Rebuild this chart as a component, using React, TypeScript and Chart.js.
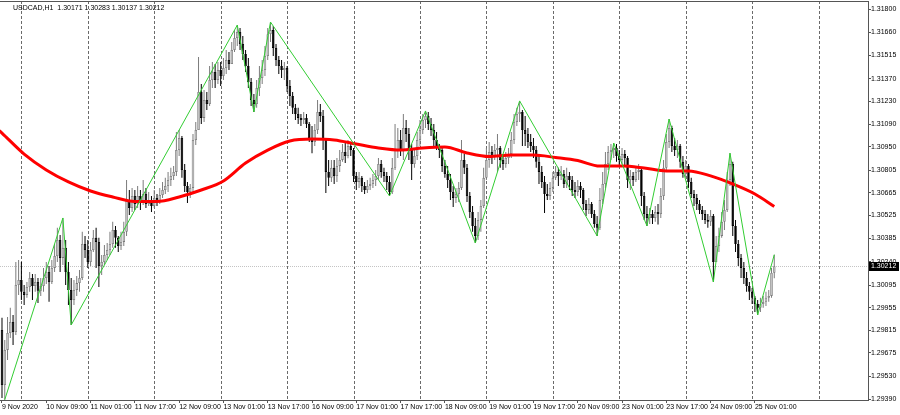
import React, { useEffect, useRef } from "react";
import { Chart, registerables } from "chart.js";

Chart.register(...registerables);

// ---------- data (USDCAD H1, 9 Nov 17:00 .. 25 Nov 08:00) ----------
const symbol = "USDCAD,H1";
const firstOpen = 1.29817;

const closes = [
  1.29477,1.29694,1.29798,1.29867,1.29805,1.30095,1.30126,1.30053,1.30034,1.30083,
  1.30139,1.30089,1.30114,1.30059,1.30089,1.30139,1.30176,1.30114,1.30201,1.30275,
  1.30374,1.30263,1.30325,1.30176,1.30065,1.30003,1.30065,1.30107,1.30139,1.30349,
  1.30312,1.30238,1.30312,1.30387,1.30362,1.30213,1.30238,1.30281,1.30312,1.30349,
  1.30436,1.30387,1.30337,1.30362,1.30424,1.30621,1.30572,1.30646,1.30596,1.30646,
  1.30609,1.30658,1.30596,1.30621,1.30584,1.30634,1.30609,1.30652,1.30683,1.30708,
  1.30745,1.30770,1.30795,1.30930,1.31005,1.30807,1.30708,1.30671,1.30696,1.30992,
  1.31054,1.31289,1.31129,1.31240,1.31215,1.31363,1.31413,1.31363,1.31425,1.31388,
  1.31438,1.31487,1.31462,1.31549,1.31623,1.31660,1.31586,1.31524,1.31450,1.31351,
  1.31240,1.31215,1.31314,1.31376,1.31425,1.31512,1.31647,1.31672,1.31562,1.31487,
  1.31450,1.31425,1.31438,1.31326,1.31264,1.31191,1.31153,1.31129,1.31116,1.31129,
  1.31091,1.31005,1.30980,1.31054,1.31166,1.31141,1.30992,1.30795,1.30758,1.30820,
  1.30770,1.30832,1.30869,1.30918,1.30893,1.30955,1.30930,1.30770,1.30733,1.30758,
  1.30708,1.30683,1.30708,1.30720,1.30745,1.30770,1.30844,1.30795,1.30770,1.30733,
  1.30671,1.30820,1.30930,1.30992,1.30930,1.31067,1.31029,1.30930,1.30844,1.30893,
  1.30992,1.31054,1.31116,1.31141,1.31091,1.31054,1.30992,1.30955,1.30930,1.30832,
  1.30782,1.30745,1.30671,1.30634,1.30658,1.30696,1.30869,1.30820,1.30646,1.30547,
  1.30461,1.30399,1.30498,1.30584,1.30758,1.30869,1.30918,1.30893,1.30930,1.30943,
  1.30869,1.30844,1.30881,1.30905,1.30992,1.31104,1.31153,1.31166,1.31054,1.31029,
  1.30980,1.30955,1.30930,1.30857,1.30795,1.30733,1.30658,1.30646,1.30696,1.30758,
  1.30795,1.30770,1.30782,1.30720,1.30770,1.30745,1.30683,1.30671,1.30708,1.30683,
  1.30596,1.30559,1.30596,1.30534,1.30473,1.30449,1.30621,1.30720,1.30844,1.30918,
  1.30930,1.30943,1.30893,1.30869,1.30905,1.30881,1.30745,1.30770,1.30745,1.30795,
  1.30807,1.30646,1.30534,1.30510,1.30534,1.30510,1.30547,1.30534,1.30646,1.30820,
  1.30980,1.31067,1.30955,1.30930,1.30955,1.30857,1.30782,1.30832,1.30733,1.30658,
  1.30634,1.30596,1.30559,1.30534,1.30498,1.30486,1.30522,1.30238,1.30337,1.30399,
  1.30486,1.30559,1.30745,1.30844,1.30461,1.30349,1.30263,1.30201,1.30139,1.30089,
  1.30053,1.30016,1.29978,1.29954,1.29978,1.29991,1.30016,1.30028,1.30171,1.30212,
];

const highs = [
  1.29892,1.29755,1.29898,1.29954,1.29910,1.30238,1.30250,1.30238,1.30095,1.30114,
  1.30176,1.30163,1.30163,1.30139,1.30139,1.30201,1.30238,1.30213,1.30250,1.30349,
  1.30449,1.30405,1.30510,1.30374,1.30238,1.30139,1.30126,1.30151,1.30188,1.30424,
  1.30399,1.30374,1.30362,1.30436,1.30449,1.30387,1.30281,1.30343,1.30355,1.30424,
  1.30486,1.30461,1.30399,1.30424,1.30486,1.30745,1.30683,1.30696,1.30683,1.30708,
  1.30683,1.30745,1.30696,1.30671,1.30646,1.30683,1.30658,1.30696,1.30733,1.30758,
  1.30795,1.30820,1.30832,1.31042,1.31054,1.31017,1.30844,1.30733,1.30720,1.31029,
  1.31104,1.31506,1.31338,1.31301,1.31289,1.31450,1.31475,1.31462,1.31475,1.31475,
  1.31500,1.31549,1.31537,1.31599,1.31672,1.31703,1.31685,1.31635,1.31549,1.31500,
  1.31376,1.31276,1.31363,1.31450,1.31487,1.31574,1.31685,1.31722,1.31697,1.31586,
  1.31512,1.31487,1.31475,1.31450,1.31363,1.31289,1.31215,1.31191,1.31153,1.31166,
  1.31153,1.31104,1.31079,1.31091,1.31240,1.31215,1.31178,1.31005,1.30869,1.30869,
  1.30869,1.30881,1.30930,1.30967,1.30973,1.30992,1.30980,1.30943,1.30795,1.30795,
  1.30770,1.30733,1.30745,1.30758,1.30782,1.30807,1.30881,1.30869,1.30820,1.30795,
  1.30770,1.30881,1.31091,1.31067,1.31054,1.31153,1.31116,1.31067,1.30967,1.30943,
  1.31042,1.31116,1.31153,1.31172,1.31166,1.31129,1.31091,1.31042,1.30967,1.30955,
  1.30869,1.30832,1.30782,1.30708,1.30696,1.30733,1.30992,1.30905,1.30844,1.30671,
  1.30584,1.30510,1.30547,1.30621,1.30820,1.30943,1.30980,1.30955,1.30967,1.31029,
  1.30955,1.30905,1.30918,1.30943,1.31042,1.31153,1.31191,1.31234,1.31178,1.31141,
  1.31067,1.31029,1.31005,1.30955,1.30893,1.30832,1.30770,1.30720,1.30733,1.30795,
  1.30832,1.30820,1.30832,1.30807,1.30820,1.30795,1.30770,1.30733,1.30745,1.30733,
  1.30696,1.30621,1.30634,1.30609,1.30559,1.30522,1.30696,1.30795,1.30918,1.30955,
  1.30967,1.30973,1.30967,1.30930,1.30943,1.30930,1.30893,1.30807,1.30795,1.30832,
  1.30844,1.30820,1.30671,1.30584,1.30572,1.30559,1.30584,1.30596,1.30696,1.30869,
  1.31029,1.31122,1.31080,1.31005,1.30992,1.30967,1.30893,1.30869,1.30844,1.30758,
  1.30683,1.30658,1.30621,1.30584,1.30559,1.30534,1.30559,1.30534,1.30399,1.30449,
  1.30547,1.30621,1.30795,1.30911,1.30857,1.30498,1.30374,1.30287,1.30238,1.30176,
  1.30114,1.30077,1.30028,1.30003,1.30016,1.30028,1.30053,1.30065,1.30201,1.30283,
];

const lows = [
  1.29397,1.29386,1.29632,1.29768,1.29724,1.29786,1.30034,1.30003,1.29972,1.30016,
  1.30053,1.30003,1.30053,1.29984,1.30028,1.30053,1.30101,1.29991,1.30101,1.30176,
  1.30238,1.30176,1.30219,1.30095,1.29972,1.29848,1.29972,1.30028,1.30053,1.30126,
  1.30263,1.30201,1.30213,1.30300,1.30201,1.30083,1.30157,1.30219,1.30250,1.30281,
  1.30325,1.30325,1.30300,1.30312,1.30337,1.30399,1.30528,1.30547,1.30559,1.30572,
  1.30559,1.30590,1.30572,1.30584,1.30547,1.30572,1.30584,1.30596,1.30634,1.30658,
  1.30671,1.30708,1.30745,1.30770,1.30893,1.30758,1.30671,1.30602,1.30634,1.30671,
  1.30961,1.31054,1.31091,1.31104,1.31178,1.31203,1.31314,1.31314,1.31338,1.31326,
  1.31363,1.31400,1.31425,1.31462,1.31537,1.31574,1.31549,1.31487,1.31413,1.31314,
  1.31203,1.31166,1.31191,1.31264,1.31338,1.31388,1.31487,1.31599,1.31512,1.31450,
  1.31400,1.31376,1.31363,1.31289,1.31203,1.31153,1.31116,1.31091,1.31079,1.31091,
  1.31067,1.30980,1.30911,1.30955,1.31029,1.31104,1.30930,1.30664,1.30708,1.30733,
  1.30720,1.30733,1.30795,1.30857,1.30850,1.30880,1.30893,1.30733,1.30683,1.30696,
  1.30671,1.30658,1.30664,1.30683,1.30696,1.30708,1.30745,1.30758,1.30733,1.30683,
  1.30646,1.30658,1.30807,1.30881,1.30893,1.30869,1.30980,1.30869,1.30745,1.30820,
  1.30869,1.30955,1.31029,1.31067,1.31054,1.31017,1.30943,1.30930,1.30881,1.30795,
  1.30758,1.30696,1.30621,1.30578,1.30602,1.30609,1.30683,1.30782,1.30609,1.30510,
  1.30424,1.30355,1.30374,1.30424,1.30572,1.30745,1.30820,1.30844,1.30869,1.30795,
  1.30820,1.30807,1.30820,1.30844,1.30881,1.30967,1.31079,1.31104,1.30955,1.30955,
  1.30943,1.30918,1.30881,1.30820,1.30720,1.30696,1.30540,1.30621,1.30621,1.30671,
  1.30745,1.30708,1.30745,1.30696,1.30696,1.30683,1.30646,1.30634,1.30646,1.30634,
  1.30559,1.30522,1.30534,1.30510,1.30449,1.30399,1.30436,1.30596,1.30696,1.30807,
  1.30869,1.30881,1.30857,1.30832,1.30844,1.30832,1.30696,1.30683,1.30708,1.30733,
  1.30745,1.30584,1.30498,1.30461,1.30473,1.30473,1.30486,1.30470,1.30510,1.30621,
  1.30795,1.30943,1.30918,1.30893,1.30881,1.30820,1.30758,1.30758,1.30696,1.30634,
  1.30584,1.30559,1.30534,1.30498,1.30473,1.30449,1.30461,1.30114,1.30238,1.30300,
  1.30387,1.30436,1.30547,1.30708,1.30399,1.30300,1.30213,1.30139,1.30101,1.30053,
  1.30003,1.29978,1.29929,1.29910,1.29929,1.29954,1.29966,1.29991,1.30016,1.30137,
];

// ZigZag pivots (bar index, price)
const zigzagBars = [1, 22, 25, 85, 91, 97, 140, 153, 171, 187, 215, 221, 233, 241, 257, 263, 273, 279];
const zigzagPrices = [
  1.29386, 1.30510, 1.29848, 1.31703, 1.31166, 1.31722, 1.30646, 1.31172, 1.30355,
  1.31234, 1.30399, 1.30973, 1.30461, 1.31122, 1.30114, 1.30911, 1.29910, 1.30283,
];

// Moving average (red), sampled at bar indices
const maBars = [-1, 0, 8, 16, 24, 32, 40, 48, 56, 64, 72, 80, 88, 96, 104, 112, 120, 128, 136, 144, 152, 160, 168, 176, 184, 192, 200, 208, 216, 224, 232, 240, 248, 256, 264, 272, 279];
const maValues = [
  1.31051, 1.31035, 1.30905, 1.30807, 1.30733, 1.30677, 1.30640, 1.30612, 1.30612, 1.30640,
  1.30683, 1.30739, 1.30850, 1.30930, 1.30986, 1.30998, 1.30992, 1.30967, 1.30943, 1.30930,
  1.30943, 1.30949, 1.30912, 1.30890, 1.30899, 1.30899, 1.30884, 1.30865, 1.30831, 1.30831,
  1.30819, 1.30801, 1.30801, 1.30770, 1.30720, 1.30658, 1.30581,
];

// Time axis labels (every 16 bars) and day separators
const xLabelBars = [0, 16, 32, 48, 64, 80, 96, 112, 128, 144, 160, 176, 192, 208, 224, 240, 256, 272];
const xLabels = [
  "9 Nov 2020", "10 Nov 09:00", "11 Nov 01:00", "11 Nov 17:00", "12 Nov 09:00", "13 Nov 01:00",
  "13 Nov 17:00", "16 Nov 09:00", "17 Nov 01:00", "17 Nov 17:00", "18 Nov 09:00", "19 Nov 01:00",
  "19 Nov 17:00", "20 Nov 09:00", "23 Nov 01:00", "23 Nov 17:00", "24 Nov 09:00", "25 Nov 01:00",
];
const daySeparatorBars = [7, 31, 55, 79, 103, 127, 151, 175, 199, 223, 247, 271, 295];

// Price axis
const yTicks = [
  1.318, 1.3166, 1.31515, 1.3137, 1.3123, 1.3109, 1.3095, 1.30805, 1.30665,
  1.30525, 1.30385, 1.3024, 1.30095, 1.29955, 1.29815, 1.29675, 1.2953, 1.2939,
];
const yMin = 1.29384;
const yMax = 1.31852;
const xMin = -0.72;
const xMax = 312.86;

const FONT = '"Liberation Sans", Arial, sans-serif';
const BULL_BODY = "#c4c4c4";
const BULL_EDGE = "#7c7c7c";
const BULL_WICK = "#7c7c7c";
const BEAR = "#000000";
const AXIS = "#555555";

export default function App() {
  const ref = useRef<HTMLCanvasElement | null>(null);

  useEffect(() => {
    if (!ref.current) return;
    const n = closes.length;
    const idx = closes.map((_, i) => i);
    // forex hourly bars open at the previous close
    const opens = closes.map((_, i) => (i === 0 ? firstOpen : closes[i - 1]));
    const isUp = closes.map((c, i) => c >= opens[i]);
    const last = n - 1;
    const fmt = (v: number) => v.toFixed(5);

    const decorations = {
      id: "decorations",
      beforeDatasetsDraw(chart: any) {
        const { ctx, chartArea: a } = chart;
        const xs = chart.scales.x;
        const ys = chart.scales.y;
        ctx.save();
        ctx.lineWidth = 1;
        ctx.strokeStyle = "#6a6a6a";
        ctx.setLineDash([3, 2]);
        for (const b of daySeparatorBars) {
          const px = Math.round(xs.getPixelForValue(b)) + 0.5;
          if (px < a.left || px > a.right) continue;
          ctx.beginPath();
          ctx.moveTo(px, a.top);
          ctx.lineTo(px, a.bottom);
          ctx.stroke();
        }
        const py = Math.round(ys.getPixelForValue(closes[last])) + 0.5;
        ctx.strokeStyle = "#c4c4c4";
        ctx.setLineDash([1, 1]);
        ctx.beginPath();
        ctx.moveTo(a.left, py);
        ctx.lineTo(a.right, py);
        ctx.stroke();
        ctx.restore();
      },
      afterDraw(chart: any) {
        const { ctx, chartArea: a } = chart;
        const ys = chart.scales.y;
        ctx.save();
        // top border of the plot frame
        ctx.strokeStyle = AXIS;
        ctx.lineWidth = 1;
        ctx.beginPath();
        ctx.moveTo(a.left, Math.floor(a.top) + 0.5);
        ctx.lineTo(a.right, Math.floor(a.top) + 0.5);
        ctx.stroke();
        // header
        ctx.fillStyle = "#000";
        ctx.font = `7px ${FONT}`;
        ctx.textBaseline = "alphabetic";
        ctx.textAlign = "left";
        ctx.fillText(
          `${symbol}  ${fmt(opens[last])} ${fmt(highs[last])} ${fmt(lows[last])} ${fmt(closes[last])}`,
          13,
          9.5
        );
        // current price tag
        const py = Math.round(ys.getPixelForValue(closes[last]));
        ctx.fillStyle = "#000";
        ctx.fillRect(a.right + 1, py - 4, 30, 9);
        ctx.fillStyle = "#fff";
        ctx.textBaseline = "middle";
        ctx.fillText(fmt(closes[last]), a.right + 3, py + 0.5);
        ctx.restore();
      },
    };

    const chart = new Chart(ref.current, {
      type: "bar",
      data: {
        datasets: [
          {
            type: "bar",
            label: "wicks",
            data: idx.map((i) => ({ x: i, y: [lows[i], highs[i]] })) as any,
            backgroundColor: isUp.map((u) => (u ? BULL_WICK : BEAR)),
            barThickness: 1,
            grouped: false,
            inflateAmount: 0,
            borderWidth: 0,
            order: 4,
          } as any,
          {
            type: "bar",
            label: "bodies",
            data: idx.map((i) => ({ x: i, y: [opens[i], closes[i]] })) as any,
            backgroundColor: isUp.map((u) => (u ? BULL_BODY : BEAR)),
            borderColor: isUp.map((u) => (u ? BULL_EDGE : BEAR)),
            borderWidth: 0.8,
            borderSkipped: false,
            barThickness: 2.6,
            minBarLength: 1,
            grouped: false,
            inflateAmount: 0,
            order: 3,
          } as any,
          {
            type: "line",
            label: "MA",
            data: maBars.map((b, k) => ({ x: b, y: maValues[k] })),
            borderColor: "#ff0000",
            borderWidth: 3,
            pointRadius: 0,
            cubicInterpolationMode: "monotone",
            fill: false,
            order: 2,
          } as any,
          {
            type: "line",
            label: "ZigZag",
            data: zigzagBars.map((b, k) => ({ x: b, y: zigzagPrices[k] })),
            borderColor: "#32cd32",
            borderWidth: 1,
            pointRadius: 0,
            tension: 0,
            fill: false,
            order: 1,
          } as any,
        ],
      },
      options: {
        responsive: false,
        animation: false,
        events: [],
        devicePixelRatio: 1,
        layout: { padding: { top: 1, left: 0, right: 0, bottom: 0 } },
        plugins: { legend: { display: false }, tooltip: { enabled: false }, title: { display: false } },
        scales: {
          x: {
            type: "linear",
            position: "bottom",
            offset: false,
            min: xMin,
            max: xMax,
            bounds: "data",
            afterBuildTicks: (scale: any) => {
              scale.ticks = xLabelBars.map((b) => ({ value: b }));
            },
            afterFit: (scale: any) => {
              scale.height = 15;
              scale.paddingLeft = 0;
              scale.paddingRight = 0;
            },
            grid: { display: true, offset: false, drawOnChartArea: false, drawTicks: true, tickLength: 3, color: AXIS },
            border: { display: true, color: AXIS },
            ticks: {
              autoSkip: false,
              maxRotation: 0,
              minRotation: 0,
              align: "start",
              padding: 0,
              color: "#000",
              font: { family: FONT, size: 7 },
              callback: (_v: any, i: number) => xLabels[i],
            },
          } as any,
          y: {
            type: "linear",
            position: "right",
            min: yMin,
            max: yMax,
            bounds: "data",
            afterBuildTicks: (scale: any) => {
              scale.ticks = yTicks.map((v) => ({ value: v }));
            },
            afterFit: (scale: any) => {
              scale.width = 32;
              scale.paddingTop = 0;
              scale.paddingBottom = 0;
            },
            grid: { display: true, drawOnChartArea: false, drawTicks: true, tickLength: 3, color: AXIS },
            border: { display: true, color: AXIS },
            ticks: {
              autoSkip: false,
              padding: 0,
              color: "#000",
              font: { family: FONT, size: 7 },
              callback: (v: any) => Number(v).toFixed(5),
            },
          } as any,
        },
      },
      plugins: [decorations],
    } as any);

    return () => chart.destroy();
  }, []);

  return (
    <div style={{ position: "absolute", left: 0, top: 0, width: 900, height: 415, background: "#fff" }}>
      <canvas ref={ref} width={900} height={415} style={{ display: "block", width: 900, height: 415 }} />
    </div>
  );
}
